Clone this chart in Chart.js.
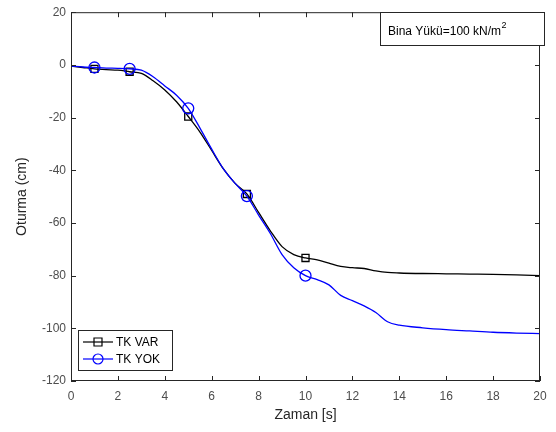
<!DOCTYPE html>
<html>
<head>
<meta charset="utf-8">
<script src="https://cdn.jsdelivr.net/npm/chart.js@4.4.1/dist/chart.umd.min.js"></script>
<style>
  html, body { margin: 0; padding: 0; background: #fff; }
  #wrap { width: 556px; height: 432px; }
</style>
</head>
<body>
<div id="wrap"><canvas id="chart" width="556" height="432"></canvas></div>
<script>
// time (s)
const TIMES = [0, 0.5, 1, 1.5, 2, 2.5, 3, 3.5, 4, 4.5, 5, 5.5, 6, 6.5, 7, 7.5, 8, 8.5, 9, 9.5,
  10, 10.5, 11, 11.5, 12, 12.5, 13, 13.5, 14, 15, 16, 17, 18, 19, 20];
// settlement (cm), with TK
const TK_VAR = [-0.5, -1, -1.5, -1.8, -2, -2.6, -3.2, -6, -9.5, -14, -19.6, -25.5, -32.5, -39.5, -45, -49, -56, -63, -69, -72,
  -73.3, -74, -75.3, -76.5, -77, -77.3, -78.2, -78.8, -79, -79.2, -79.3, -79.4, -79.5, -79.7, -80];
// settlement (cm), without TK
const TK_YOK = [-0.5, -0.8, -1, -1.2, -1.3, -1.5, -2, -4.5, -8, -11.5, -16.5, -24, -32, -39.5, -45, -49.8, -57, -64, -72, -77,
  -80, -81.5, -83.5, -87.5, -89.5, -91.5, -94, -97.5, -98.8, -99.8, -100.5, -101, -101.5, -101.8, -102];
const MARKER_TIMES = [1, 2.5, 5, 7.5, 10];
const X_TICKS = [0, 2, 4, 6, 8, 10, 12, 14, 16, 18, 20];
const Y_TICKS = [-120, -100, -80, -60, -40, -20, 0, 20];

const FONT = '"Liberation Sans", Arial, Helvetica, sans-serif';
const AXIS_COLOR = '#262626';
const TICK_COLOR = '#4d4d4d';

const toPts = vals => TIMES.map((t, i) => ({ x: t, y: vals[i] }));
const markerRadius = r => ctx => (ctx.raw && MARKER_TIMES.includes(ctx.raw.x)) ? r : 0;

// inward ticks + box on top/right, like MATLAB axes
const boxPlugin = {
  id: 'boxTicks',
  afterDraw(chart) {
    const { ctx, chartArea: a, scales } = chart;
    ctx.save();
    ctx.strokeStyle = AXIS_COLOR;
    ctx.lineWidth = 1;
    ctx.beginPath();
    ctx.moveTo(a.left, a.top + 0.5); ctx.lineTo(a.right, a.top + 0.5);
    ctx.moveTo(a.right - 0.5, a.top); ctx.lineTo(a.right - 0.5, a.bottom);
    ctx.moveTo(a.left + 0.5, a.top); ctx.lineTo(a.left + 0.5, a.bottom);
    ctx.moveTo(a.left, a.bottom - 0.5); ctx.lineTo(a.right, a.bottom - 0.5);
    X_TICKS.forEach(v => {
      const px = Math.round(scales.x.getPixelForValue(v)) + 0.5;
      ctx.moveTo(px, a.bottom); ctx.lineTo(px, a.bottom - 5);
      ctx.moveTo(px, a.top); ctx.lineTo(px, a.top + 5);
    });
    Y_TICKS.forEach(v => {
      const py = Math.round(scales.y.getPixelForValue(v)) + 0.5;
      ctx.moveTo(a.left, py); ctx.lineTo(a.left + 5, py);
      ctx.moveTo(a.right, py); ctx.lineTo(a.right - 5, py);
    });
    ctx.stroke();

    // annotation box
    const bx = 380, by = 12, bw = 164, bh = 33;
    ctx.fillStyle = '#fff';
    ctx.fillRect(bx, by, bw, bh);
    ctx.strokeStyle = AXIS_COLOR;
    ctx.strokeRect(bx + 0.5, by + 0.5, bw, bh);
    ctx.fillStyle = '#000';
    ctx.font = '12px ' + FONT;
    ctx.textBaseline = 'alphabetic';
    const main = 'Bina Yükü=100 kN/m';
    ctx.fillText(main, bx + 8, by + 23);
    const w = ctx.measureText(main).width;
    ctx.font = '9px ' + FONT;
    ctx.fillText('2', bx + 8 + w + 0.5, by + 16);

    // legend
    const lx = 78, ly = 330, lw = 94, lh = 40;
    ctx.fillStyle = '#fff';
    ctx.fillRect(lx, ly, lw, lh);
    ctx.strokeStyle = AXIS_COLOR;
    ctx.strokeRect(lx + 0.5, ly + 0.5, lw, lh);
    chart.data.datasets.forEach((ds, i) => {
      const yy = ly + 12 + i * 17;
      ctx.strokeStyle = ds.borderColor;
      ctx.lineWidth = 1.2;
      ctx.beginPath();
      ctx.moveTo(lx + 5, yy); ctx.lineTo(lx + 35, yy);
      ctx.stroke();
      ctx.beginPath();
      if (ds.pointStyle === 'rect') {
        ctx.rect(lx + 16, yy - 4, 8, 8);
      } else {
        ctx.arc(lx + 20, yy, 5, 0, Math.PI * 2);
      }
      ctx.stroke();
      ctx.fillStyle = '#000';
      ctx.font = '12px ' + FONT;
      ctx.textBaseline = 'middle';
      ctx.fillText(ds.label, lx + 38, yy + 1);
    });
    ctx.restore();
  }
};

new Chart(document.getElementById('chart'), {
  type: 'line',
  data: {
    datasets: [
      {
        label: 'TK VAR',
        data: toPts(TK_VAR),
        borderColor: '#000000',
        borderWidth: 1.3,
        pointStyle: 'rect',
        pointRadius: markerRadius(5),
        pointBorderWidth: 1.3,
        pointBorderColor: '#000000',
        pointBackgroundColor: 'rgba(0,0,0,0)',
        cubicInterpolationMode: 'monotone',
        order: 2
      },
      {
        label: 'TK YOK',
        data: toPts(TK_YOK),
        borderColor: '#0000ff',
        borderWidth: 1.3,
        pointStyle: 'circle',
        pointRadius: markerRadius(5.5),
        pointBorderWidth: 1.3,
        pointBorderColor: '#0000ff',
        pointBackgroundColor: 'rgba(0,0,0,0)',
        cubicInterpolationMode: 'monotone',
        order: 1
      }
    ]
  },
  options: {
    responsive: false,
    animation: false,
    layout: { padding: { left: 14, right: 16, top: 10, bottom: 8 } },
    plugins: { legend: { display: false }, tooltip: { enabled: false } },
    scales: {
      x: {
        type: 'linear',
        min: 0, max: 20,
        afterBuildTicks: s => { s.ticks = X_TICKS.map(v => ({ value: v })); },
        afterFit: s => { s.height = 43; },
        grid: { display: false, drawTicks: false },
        border: { display: false },
        ticks: { color: TICK_COLOR, font: { family: FONT, size: 12 }, padding: 8, maxRotation: 0 },
        title: { display: true, text: 'Zaman [s]', color: AXIS_COLOR, font: { family: FONT, size: 14 }, padding: 0 }
      },
      y: {
        min: -120, max: 20,
        afterBuildTicks: s => { s.ticks = Y_TICKS.map(v => ({ value: v })); },
        afterFit: s => { s.width = 57; },
        grid: { display: false, drawTicks: false },
        border: { display: false },
        ticks: { color: TICK_COLOR, font: { family: FONT, size: 12 }, padding: 5 },
        title: { display: true, text: 'Oturma (cm)', color: AXIS_COLOR, font: { family: FONT, size: 14 }, padding: 0 }
      }
    }
  },
  plugins: [boxPlugin]
});
</script>
</body>
</html>
